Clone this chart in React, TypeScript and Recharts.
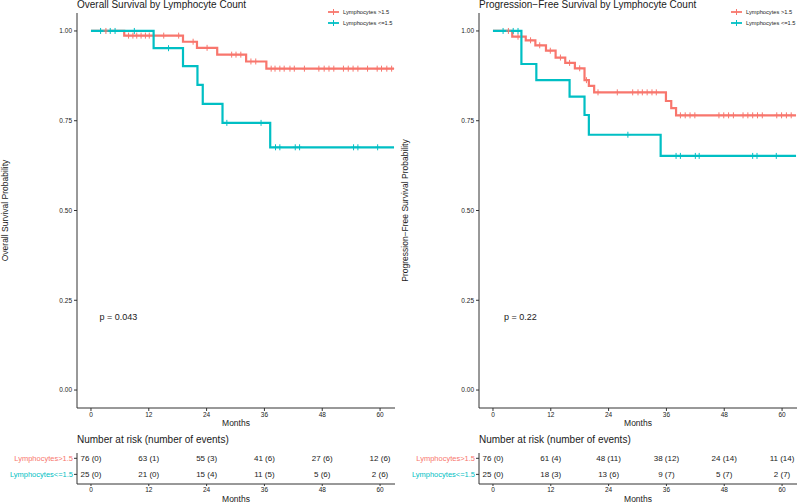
import React from 'react';
import { ComposedChart, Line, Scatter, XAxis, YAxis, ReferenceDot } from 'recharts';

const RED = '#F8766D';
const TEAL = '#00BFC4';
const INK = '#1a1a1a';
const FONT = '"Liberation Sans", Arial, Helvetica, sans-serif';

const legendNames = ['Lymphocytes >1.5', 'Lymphocytes <=1.5'];
const riskNames = ['Lymphocytes>1.5', 'Lymphocytes<=1.5'];
const groupColors = [RED, TEAL];
const monthTicks = [0, 12, 24, 36, 48, 60];
const survTicks = [0, 0.25, 0.5, 0.75, 1];
const X_DOMAIN: [number, number] = [-2.9, 63.1];

// overall survival, lymphocytes >1.5
const osHighTimes = [0, 6.9, 19.1, 22.0, 26.2, 32.2, 36.4, 62.9];
const osHighSurv = [1, 0.987, 0.970, 0.953, 0.934, 0.915, 0.895, 0.895];
const osHighCensor = [3.1, 7.8, 8.7, 9.5, 10.4, 11.3, 12.1, 15.1, 18.2, 21.2, 24.1, 29.2, 30.1, 31.1, 33.2, 34.2,
  37.4, 38.2, 39.2, 40.1, 41.3, 42.2, 44.3, 47.3, 48.4, 49.4, 50.4, 52.4, 53.4, 54.4, 55.4, 57.4, 59.4, 60.3, 61.4, 62.4];
// overall survival, lymphocytes <=1.5
const osLowTimes = [0, 13.0, 19.1, 22.1, 23.2, 27.3, 37.2, 62.9];
const osLowSurv = [1, 0.952, 0.902, 0.850, 0.797, 0.744, 0.676, 0.676];
const osLowCensor = [2.0, 4.0, 5.0, 9.0, 16.1, 28.2, 35.3, 38.3, 39.2, 42.4, 43.3, 54.5, 55.4, 59.5];

// progression-free survival, lymphocytes >1.5
const pfsHighTimes = [0, 4.0, 6.8, 8.8, 11.0, 13.0, 15.0, 17.0, 19.0, 19.9, 21.0, 35.9, 37.0, 38.0, 62.9];
const pfsHighSurv = [1, 0.984, 0.974, 0.960, 0.945, 0.926, 0.911, 0.896, 0.863, 0.847, 0.829, 0.805, 0.785, 0.765, 0.765];
const pfsHighCensor = [3.2, 5.2, 7.8, 9.7, 11.9, 14.0, 15.9, 18.0, 19.4, 21.8, 25.8, 29.0, 30.1, 31.0, 32.0, 33.0, 33.9,
  38.9, 39.9, 40.9, 41.9, 46.9, 47.9, 48.9, 49.9, 51.9, 52.9, 53.9, 54.9, 55.9, 58.9, 59.9, 60.9, 61.9];
// progression-free survival, lymphocytes <=1.5
const pfsLowTimes = [0, 5.9, 9.0, 15.9, 19.0, 19.9, 34.8, 62.9];
const pfsLowSurv = [1, 0.908, 0.863, 0.817, 0.766, 0.711, 0.652, 0.652];
const pfsLowCensor = [2.1, 4.2, 5.2, 28.0, 38.0, 38.9, 42.0, 42.8, 53.9, 54.8, 58.8];

// number at risk / number of events at 0,12,...,60 months
const osAtRiskHigh = [76, 63, 55, 41, 27, 12];
const osEventsHigh = [0, 1, 3, 6, 6, 6];
const osAtRiskLow = [25, 21, 15, 11, 5, 2];
const osEventsLow = [0, 0, 4, 5, 6, 6];
const pfsAtRiskHigh = [76, 61, 48, 38, 24, 11];
const pfsEventsHigh = [0, 4, 11, 12, 14, 14];
const pfsAtRiskLow = [25, 18, 13, 9, 5, 2];
const pfsEventsLow = [0, 3, 6, 7, 7, 7];

type Curve = { times: number[]; surv: number[]; censor: number[] };

const survAt = (c: Curve, t: number) => {
  let s = c.surv[0];
  c.times.forEach((tt, i) => {
    if (tt <= t) s = c.surv[i];
  });
  return s;
};

const CensorMark = (props: any) => {
  const { cx, cy, fill } = props;
  if (cx == null || cy == null) return null;
  return (
    <g stroke={fill} strokeWidth={1}>
      <line x1={cx} x2={cx} y1={cy - 3} y2={cy + 3} />
      <line x1={cx - 2.5} x2={cx + 2.5} y1={cy} y2={cy} />
    </g>
  );
};

const RiskCell = (props: any) => {
  const { cx, cy, payload } = props;
  return (
    <text x={cx} y={cy} textAnchor="middle" dominantBaseline="central" fontSize={8} fill={INK} fontFamily={FONT}>
      {payload.label}
    </text>
  );
};

const RiskTick = (props: any) => {
  const { x, y, payload } = props;
  const gi = riskNames.length - payload.value;
  return (
    <text x={x} y={y} textAnchor="end" dominantBaseline="central" fontSize={7.5} fill={groupColors[gi]} fontFamily={FONT}>
      {riskNames[gi]}
    </text>
  );
};

function Panel(props: any) {
  const { left, yW, rm, legendX, title, yLabel, pText, curves, atRisk, events } = props;
  return (
    <div style={{ position: 'absolute', left, top: 0, width: 400, height: 503 }}>
      <div style={{ position: 'absolute', left: yW, top: 0, fontSize: 10, lineHeight: '10px', color: INK, whiteSpace: 'nowrap' }}>
        {title}
      </div>
      <ComposedChart width={400} height={432} margin={{ top: 13, right: rm, bottom: 0, left: 0 }}>
        <XAxis
          type="number"
          dataKey="t"
          domain={X_DOMAIN}
          ticks={monthTicks}
          interval={0}
          allowDataOverflow
          height={24}
          tickSize={3}
          tickMargin={1}
          stroke="#333"
          tick={{ fontSize: 6.5, fill: INK }}
          label={{ value: 'Months', position: 'insideBottom', offset: 6, fontSize: 8.5, fill: INK }}
        />
        <YAxis
          type="number"
          dataKey="s"
          domain={[-0.05, 1.05]}
          ticks={survTicks}
          interval={0}
          allowDataOverflow
          width={yW}
          tickSize={3}
          tickMargin={2}
          stroke="#333"
          tickFormatter={(v: number) => v.toFixed(2)}
          tick={{ fontSize: 6.5, fill: INK }}
          label={{
            content: (lp: any) => {
              const vb = lp.viewBox;
              const cy = vb.y + vb.height / 2;
              const cx = vb.x + 5;
              return (
                <text x={cx} y={cy} transform={`rotate(-90, ${cx}, ${cy})`} textAnchor="middle" dominantBaseline="central" fontSize={8.5} fill={INK}>
                  {yLabel}
                </text>
              );
            },
          }}
        />
        {curves.map((c: Curve, gi: number) => (
          <Line
            key={'l' + gi}
            data={c.times.map((t, i) => ({ t, s: c.surv[i] }))}
            dataKey="s"
            type="stepAfter"
            stroke={groupColors[gi]}
            strokeWidth={2.2}
            dot={false}
            activeDot={false}
            isAnimationActive={false}
          />
        ))}
        {curves.map((c: Curve, gi: number) => (
          <Scatter
            key={'c' + gi}
            data={c.censor.map((t) => ({ t, s: survAt(c, t) }))}
            fill={groupColors[gi]}
            shape={CensorMark}
            isAnimationActive={false}
          />
        ))}
        <ReferenceDot
          x={5.7}
          y={0.203}
          r={0}
          fill="none"
          stroke="none"
          label={{ value: pText, position: 'center', fontSize: 9, fill: INK }}
        />
      </ComposedChart>

      <div style={{ position: 'absolute', left: legendX, top: 7, fontSize: 5.7, color: INK }}>
        {legendNames.map((n, gi) => (
          <div key={n} style={{ display: 'flex', alignItems: 'center', height: 10.6, whiteSpace: 'nowrap' }}>
            <svg width={14} height={8} style={{ marginRight: 1 }}>
              <line x1={0} x2={11} y1={4} y2={4} stroke={groupColors[gi]} strokeWidth={1.8} />
              <line x1={5.5} x2={5.5} y1={1} y2={7} stroke={groupColors[gi]} strokeWidth={1} />
            </svg>
            <span>{n}</span>
          </div>
        ))}
      </div>

      <div style={{ position: 'absolute', left: yW, top: 435, fontSize: 10, lineHeight: '10px', color: INK, whiteSpace: 'nowrap' }}>
        Number at risk (number of events)
      </div>
      <div style={{ position: 'absolute', left: 0, top: 447 }}>
        <ComposedChart width={400} height={56} margin={{ top: 6, right: rm, bottom: 0, left: 0 }}>
          <XAxis
            type="number"
            dataKey="t"
            domain={X_DOMAIN}
            ticks={monthTicks}
            interval={0}
            allowDataOverflow
            height={19}
            tickSize={2}
            tickMargin={1}
            stroke="#333"
            tick={{ fontSize: 6.5, fill: INK }}
            label={{ value: 'Months', position: 'insideBottom', offset: 1, fontSize: 8.5, fill: INK }}
          />
          <YAxis
            type="number"
            dataKey="row"
            domain={[0.4, 2.33]}
            ticks={[1, 2]}
            interval={0}
            allowDataOverflow
            width={yW}
            tickSize={3}
            tickMargin={1}
            stroke="#333"
            tick={<RiskTick />}
          />
          {atRisk.map((nums: number[], gi: number) => (
            <Scatter
              key={'r' + gi}
              data={nums.map((n, i) => ({ t: monthTicks[i], row: riskNames.length - gi, label: `${n} (${events[gi][i]})` }))}
              shape={RiskCell}
              isAnimationActive={false}
            />
          ))}
        </ComposedChart>
      </div>
    </div>
  );
}

export default function App() {
  const osCurves: Curve[] = [
    { times: osHighTimes, surv: osHighSurv, censor: osHighCensor },
    { times: osLowTimes, surv: osLowSurv, censor: osLowCensor },
  ];
  const pfsCurves: Curve[] = [
    { times: pfsHighTimes, surv: pfsHighSurv, censor: pfsHighCensor },
    { times: pfsLowTimes, surv: pfsLowSurv, censor: pfsLowCensor },
  ];
  return (
    <div style={{ position: 'absolute', left: 0, top: 0, width: 800, height: 503, background: '#fff', overflow: 'hidden', fontFamily: FONT }}>
      <Panel
        left={0}
        yW={77}
        rm={5}
        legendX={328}
        title="Overall Survival by Lymphocyte Count"
        yLabel="Overall Survival Probability"
        pText="p = 0.043"
        curves={osCurves}
        atRisk={[osAtRiskHigh, osAtRiskLow]}
        events={[osEventsHigh, osEventsLow]}
      />
      <Panel
        left={400}
        yW={79}
        rm={3}
        legendX={331}
        title="Progression−Free Survival by Lymphocyte Count"
        yLabel="Progression−Free Survival Probability"
        pText="p = 0.22"
        curves={pfsCurves}
        atRisk={[pfsAtRiskHigh, pfsAtRiskLow]}
        events={[pfsEventsHigh, pfsEventsLow]}
      />
    </div>
  );
}
